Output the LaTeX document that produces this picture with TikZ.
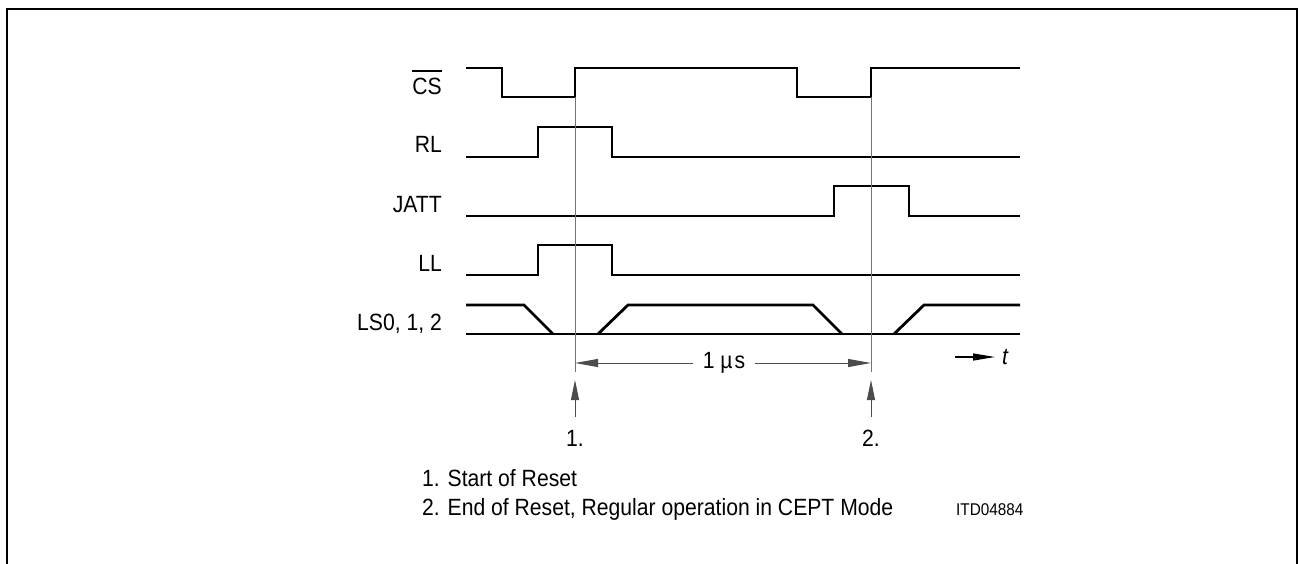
\documentclass[tikz,border=0pt]{standalone}
\usepackage{fontspec}
\setmainfont[FakeStretch=0.9]{Liberation Sans}
\usetikzlibrary{arrows.meta,positioning}

\newcommand{\nbar}[1]{\leavevmode\vbox{\hrule height 2pt\kern 7pt\hbox{#1}}}

\tikzset{
  wave/.style={line width=2.8pt},
  guide/.style={line width=1pt, draw=black!55},
  lbl/.style={inner sep=0pt, font=\fontsize{23.5}{28}\selectfont},
  siglbl/.style={lbl, anchor=base east},
  dimline/.style={line width=1pt, draw=black!70, -{Triangle[length=23pt,width=8pt]}},
  uparrow/.style={line width=1pt, draw=black!70, -{Triangle[length=20pt,width=8pt]}},
}

\begin{document}
\begin{tikzpicture}[x=1pt,y=-1pt]
\useasboundingbox (0,0) rectangle (1298,564);
\draw[line width=2.3pt] (7,564) -- (7,9) -- (1297,9) -- (1297,564);

\node[siglbl] (cs) at (442,95) {\nbar{CS}};
\node[siglbl] (rl) at (442,153) {RL};
\node[siglbl] (jatt) at (442,212) {JATT};
\node[siglbl] (ll) at (442,271) {LL};
\node[siglbl] (ls) at (442,330) {LS0, 1, 2};

\draw[wave] (466,68) -- (502,68) -- (502,97) -- (575,97) -- (575,68) -- (797,68)
  -- (797,97) -- (871,97) -- (871,68) -- (1020,68);
\draw[wave] (466,157) -- (538,157) -- (538,127) -- (612,127) -- (612,157) -- (1020,157);
\draw[wave] (466,216) -- (834,216) -- (834,186) -- (909,186) -- (909,216) -- (1020,216);
\draw[wave] (466,275) -- (538,275) -- (538,245) -- (612,245) -- (612,275) -- (1020,275);
\draw[wave] (466,334) -- (1020,334);
\draw[wave] (466,305) -- (524,305) -- (553,334);
\draw[wave] (598,334) -- (628,305) -- (813,305) -- (842,334);
\draw[wave] (894,334) -- (924,305) -- (1020,305);

\coordinate (r1) at (575,97);
\coordinate (r2) at (871,97);
\coordinate (g1) at (575,372);
\coordinate (g2) at (871,372);
\draw[guide] (r1) -- (g1);
\draw[guide] (r2) -- (g2);

\coordinate (d1) at (575,363);
\coordinate (d2) at (871,363);
\node[lbl, inner xsep=10pt] (us) at (724,363) {1 µ\kern2pt s};
\draw[dimline] (us) -- (d1);
\draw[dimline] (us) -- (d2);

\coordinate (a1) at (575,417);
\coordinate (t1) at (575,380);
\coordinate (a2) at (871,417);
\coordinate (t2) at (871,380);
\draw[uparrow] (a1) -- (t1);
\draw[uparrow] (a2) -- (t2);
\node[lbl, anchor=base] (n1) at (575,446) {1.};
\node[lbl, anchor=base] (n2) at (871,446) {2.};

\coordinate (ta) at (955,357);
\coordinate (tb) at (995,357);
\node[lbl, anchor=base west] (t) at (1002,364) {\itshape t};
\draw[line width=1.2pt, -{Triangle[length=22pt,width=7pt]}] (ta) -- (tb);

\node[lbl, anchor=base west] (leg1) at (422,486) {1. Start of Reset};
\node[lbl, anchor=base west] (leg2) at (422,515) {2. End of Reset, Regular operation in CEPT Mode};
\node[inner sep=0pt, anchor=base west, font=\fontsize{17}{20}\selectfont] (itd) at (956,515) {ITD04884};
\end{tikzpicture}
\end{document}
